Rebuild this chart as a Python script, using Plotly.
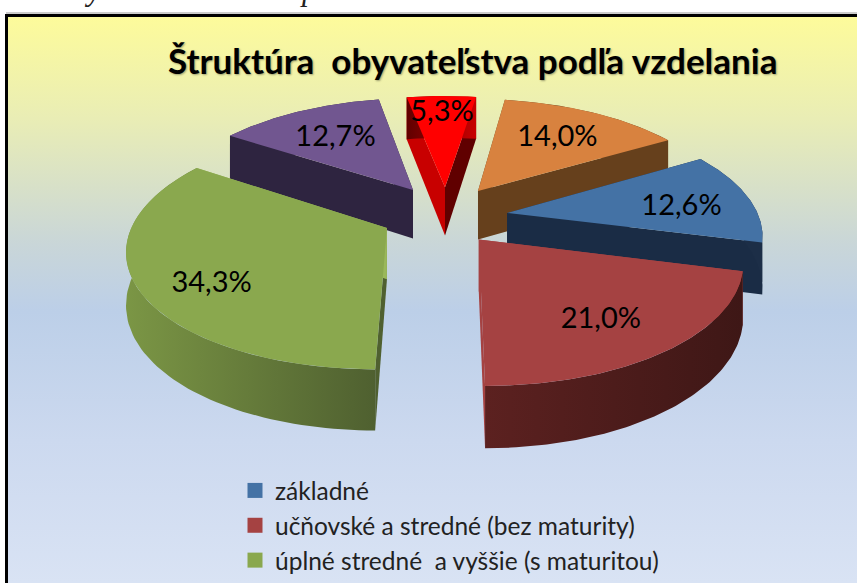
import numpy as np
import plotly.graph_objects as go

# --- data ---
slice_names = ["základné", "učňovské a stredné (bez maturity)", "úplné stredné  a vyššie (s maturitou)"]
legend_names = slice_names[:3]
values = [12.6, 21.0, 34.3, 12.7, 5.3, 14.0]
labels = ["12,6%", "21,0%", "34,3%", "12,7%", "5,3%", "14,0%"]
title_text = "Štruktúra  obyvateľstva podľa vzdelania"
clipped_text = "a a obyvateľstva mesta podľa vzdelania"

# --- style ---
top_cols = ["#4472a5", "#a54242", "#8aa84e", "#715690", "#ff0000", "#d8823f"]
wall_cols = [("#1c2e47", "#1c2e47"), ("#5c2120", "#3e1716"), ("#7b9645", "#4f6030"),
             ("#2e2440", "#2e2440"), ("#600000", "#c80000"), ("#66401c", "#66401c")]
cut_cols = [("#1a2c45", "#1a2c45"), ("#a54242", "#a54242"), ("#4f6030", "#9ab85a"),
            ("#2e2440", "#2e2440"), ("#c80000", "#600000"), ("#66401c", "#66401c")]
explode_x = [0.248, 0.130, -0.227, -0.132, 0.0, 0.136]
explode_y = [-0.009, -0.235, -0.139, 0.201, 0.228, 0.191]
label_r = [0.72, 0.68, 0.72, 0.65, 0.80, 0.66]
label_dy = [6, 9, 14, 2, 1, 1]
order = [3, 4, 5, 0, 2, 1]
start_deg = 31.0
CX, CY, RX, A, K, H = 445.0, 212.0, 250.0, 113.0, 0.16, 50.0


def project(X, Y, z=0.0):
    s = 1.0 / (1.0 + K * Y)
    return CX + RX * X * s, CY - A * Y * s + z * H * s


fig = go.Figure()


def poly(xs, ys, c0, c1=None, kind="horizontal"):
    fig.add_trace(go.Scatter(
        x=list(xs) + [xs[0]], y=list(ys) + [ys[0]], mode="lines", line=dict(width=0),
        fill="toself", hoverinfo="skip", showlegend=False,
        fillgradient=dict(type=kind, colorscale=[[0, c0], [1, c1 or c0]]),
    ))


# background gradient (y axis runs downward, so the scale runs bottom to top)
poly([8, 857, 857, 8], [17, 17, 583, 583], "#fdfb9b", "#d8e2f3", "vertical")
fig.data[0].fillgradient.colorscale = [
    [0, "#d9e3f4"], [0.25, "#ccd9ef"], [0.48, "#bccfe8"], [0.60, "#c9d6d8"], [0.82, "#e9edb5"], [1, "#fdfb9b"]
]

# angles (clockwise from start)
pct = np.array(values) / sum(values) * 360
ends = start_deg - np.cumsum(pct)
starts = ends + pct
mids = np.radians((starts + ends) / 2)

label_x, label_y = [], []
for i in range(len(values)):
    lx, ly = project(explode_x[i] + label_r[i] * np.cos(mids[i]), explode_y[i] + label_r[i] * np.sin(mids[i]))
    label_x.append(lx)
    label_y.append(ly + label_dy[i])

for i in order:
    ox, oy = explode_x[i], explode_y[i]
    th = np.radians(np.linspace(starts[i], ends[i], 80))
    ax, ay = ox + np.cos(th), oy + np.sin(th)
    tx, ty = project(ax, ay, 0)
    bx, by = project(ax, ay, 1)
    cxt, cyt = project(ox, oy, 0)
    cxb, cyb = project(ox, oy, 1)
    # cut faces
    poly([cxt, tx[0], bx[0], cxb], [cyt, ty[0], by[0], cyb], cut_cols[i][0])
    poly([cxt, tx[-1], bx[-1], cxb], [cyt, ty[-1], by[-1], cyb], cut_cols[i][1])
    # outer wall
    poly(list(tx) + list(bx[::-1]), list(ty) + list(by[::-1]), wall_cols[i][0], wall_cols[i][1])
    # top
    poly([cxt] + list(tx), [cyt] + list(ty), top_cols[i])

# value labels
fig.add_trace(go.Scatter(x=label_x, y=label_y, mode="text", text=labels, hoverinfo="skip", showlegend=False,
                         textposition="middle center",
                         textfont=dict(family="Lato", size=29, color="#000000")))

# legend
for n, c in zip(legend_names, top_cols):
    fig.add_trace(go.Scatter(x=[None], y=[None], mode="markers", name=n,
                             marker=dict(symbol="square", size=15, color=c)))

fig.add_annotation(x=472, y=60, xref="x", yref="y", text="<b>" + title_text + "</b>", showarrow=False,
                   font=dict(family="Lato", size=35, color="#000000", shadow="1px 1px 2px rgba(0,0,0,0.35)"))
fig.add_annotation(x=8 / 857, y=1 + 10 / 583, xref="paper", yref="paper", xanchor="left", yanchor="middle",
                   text="<i>" + clipped_text + "</i>", showarrow=False,
                   font=dict(family="Liberation Serif", size=31, color="#222222"))

fig.update_layout(
    width=857, height=583, margin=dict(l=0, r=0, t=0, b=0, autoexpand=False), paper_bgcolor="#ffffff", plot_bgcolor="#ffffff",
    xaxis=dict(range=[0, 857], visible=False, fixedrange=True),
    yaxis=dict(range=[583, 0], visible=False, fixedrange=True),
    legend=dict(x=235 / 857, y=1 - 468 / 583, xanchor="left", yanchor="top", bgcolor="rgba(0,0,0,0)",
                font=dict(family="Lato", size=24.5, color="#222222"), itemwidth=30, tracegroupgap=0),
    shapes=[
        dict(type="line", xref="x", yref="y", x0=6, x1=857, y0=13, y1=13, line=dict(color="#999999", width=1)),
        dict(type="line", xref="x", yref="y", x0=5, x1=857, y0=15.5, y1=15.5, line=dict(color="#000000", width=3)),
        dict(type="line", xref="x", yref="y", x0=6.5, x1=6.5, y0=14, y1=583, line=dict(color="#000000", width=3)),
    ],
)
fig.write_html("out.html", config=dict(displayModeBar=False),
               post_script="document.body.style.margin='0';document.documentElement.style.overflow='hidden';")
